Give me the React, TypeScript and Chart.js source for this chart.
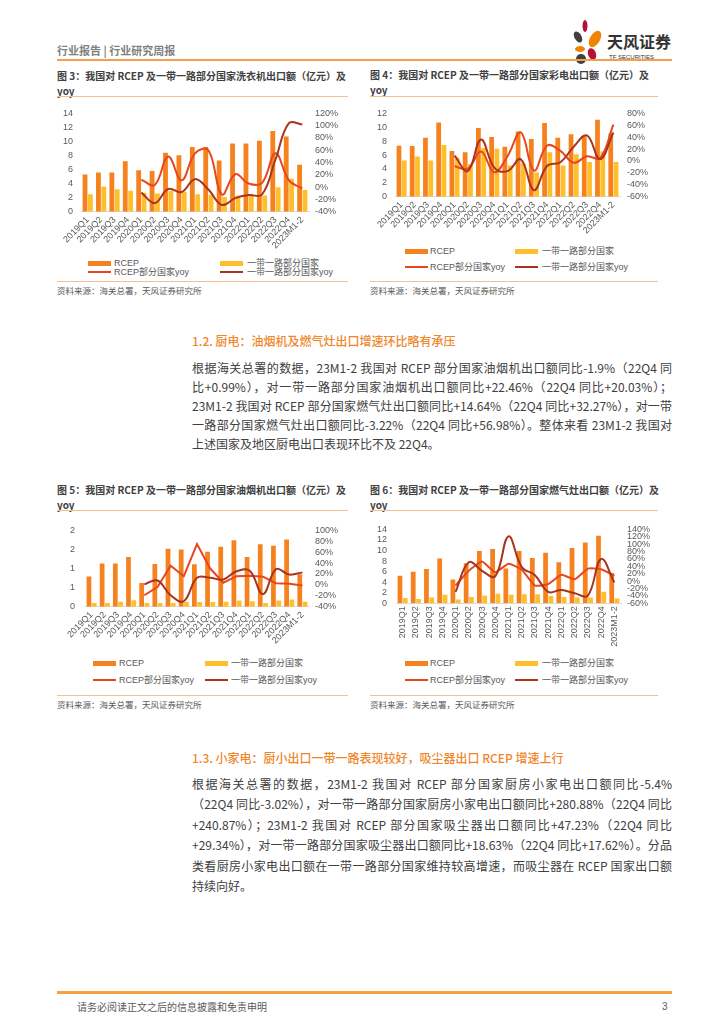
import React, { useEffect, useRef } from "react";
import { Chart, registerables } from "chart.js";
Chart.register(...registerables);

// ---------- data ----------
const quarters = ["2019Q1","2019Q2","2019Q3","2019Q4","2020Q1","2020Q2","2020Q3","2020Q4","2021Q1","2021Q2","2021Q3","2021Q4","2022Q1","2022Q2","2022Q3","2022Q4","2023M1-2"];
const legendNames = ["RCEP", "一带一路部分国家", "RCEP部分国家yoy", "一带一路部分国家yoy"];

// Fig 3 washing machines (亿元, yoy %)
const washerRcep = [5.3, 5.6, 5.6, 7.2, 5.9, 5.8, 8.4, 8.05, 9.2, 9.2, 7.3, 9.7, 9.7, 10.1, 11.5, 10.7, 6.7];
const washerBr = [2.5, 3.6, 3.2, 3.0, 2.7, 2.6, 3.0, 2.85, 2.5, 2.4, 2.1, 2.3, 2.4, 2.3, 3.5, 4.7, 3.1];
const washerRcepYoy = [null, null, null, null, 12, 3.5, 50, 11, 55, 60, -12, 21, 6, 7, 55, 11, -2];
const washerBrYoy = [null, null, null, null, -9, -26, -3, -8, 13, -4, -29, -18, -13, -12, 45, 104, 102];

// Fig 4 colour TVs
const tvRcep = [7.35, 7.3, 8.5, 10.7, 6.6, 6.4, 9.9, 8.6, 7.2, 9.4, 8.3, 10.6, 8.5, 9.0, 8.7, 11.1, 9.1];
const tvBr = [5.2, 5.8, 5.2, 7.45, 5.6, 4.7, 7.0, 6.9, 4.5, 4.8, 3.5, 6.4, 4.5, 6.1, 5.0, 6.5, 5.0];
const tvRcepYoy = [null, null, null, null, -9, -13, 16, -19, 8, 48, -16, 26, 17, -3, 8, 5, 61];
const tvBrYoy = [null, null, null, null, 9, -17, 36, -11, -17, 3, -49, -8, -2, 24, 43, 3, 48];

// Fig 5 range hoods
const hoodRcep = [0.79, 1.13, 1.13, 1.3, 0.62, 1.12, 1.52, 1.5, 1.11, 1.44, 1.57, 1.74, 1.3, 1.64, 1.6, 1.76, 0.85];
const hoodBr = [0.1, 0.1, 0.13, 0.17, 0.1, 0.1, 0.1, 0.12, 0.12, 0.12, 0.13, 0.16, 0.14, 0.1, 0.16, 0.19, 0.13];
const hoodRcepYoy = [null, null, null, null, -19, -4, 35, 16, 75, 30, 4, 16, 17, 15, 3, 2, -1];
const hoodBrYoy = [null, null, null, null, 1, 8, -19, -30, 13, 13, 10, 25, 26, -17, 29, 19, 23];

// Fig 6 gas stoves
const stoveRcep = [5.2, 6.0, 6.5, 8.5, 4.5, 7.6, 9.9, 10.3, 6.6, 9.9, 8.6, 9.6, 7.8, 10.5, 11.5, 12.8, 5.7];
const stoveBr = [1.0, 0.8, 1.1, 1.6, 0.7, 1.2, 1.5, 1.8, 1.6, 1.7, 1.7, 1.4, 1.2, 1.1, 1.1, 2.2, 0.9];
const stoveRcepYoy = [null, null, null, null, -12, 28, 53, 24, 47, 31, -12, -8, 17, 5, 34, 32, 15];
const stoveBrYoy = [null, null, null, null, -29, 51, 28, 13, 121, 38, 16, -29, -24, -33, -39, 60, -4];

// ---------- styles ----------
const ORANGE = "#F5821F";
const YELLOW = "#FFBF2B";
const RED = "#E8471D";
const DARK = "#A8341F";
const LINE_ORANGE = "#F6C08E";
const CJK = "'Noto Sans CJK SC', 'Noto Sans', sans-serif";
const TICKF = "'Liberation Sans', 'Noto Sans CJK SC', sans-serif";
const TICK_COLOR = "#595959";

type Cfg = {
  left: number; top: number; width: number; height: number;
  rcep: number[]; br: number[]; rcepYoy: (number | null)[]; brYoy: (number | null)[];
  yMax: number; yStep: number; y2Min: number; y2Max: number; y2Step: number;
  rot: number; padTop: number; xH: number; lw: number; rw: number; lpad: number; rpad: number;
  tRed: number; tDark: number; intLabels?: boolean;
};

function ComboChart(p: Cfg) {
  const ref = useRef<HTMLCanvasElement>(null);
  useEffect(() => {
    const tickFont = { family: TICKF, size: 9 };
    const chart = new Chart(ref.current as HTMLCanvasElement, {
      type: "bar",
      data: {
        labels: quarters,
        datasets: [
          { type: "line", label: legendNames[2], data: p.rcepYoy, yAxisID: "y2", borderColor: RED, backgroundColor: RED, borderWidth: 2, pointRadius: 0, tension: p.tRed, order: 1, fill: false } as any,
          { type: "line", label: legendNames[3], data: p.brYoy, yAxisID: "y2", borderColor: DARK, backgroundColor: DARK, borderWidth: 2, pointRadius: 0, tension: p.tDark, order: 0, fill: false } as any,
          { type: "bar", label: legendNames[0], data: p.rcep, yAxisID: "y", backgroundColor: ORANGE, order: 2, categoryPercentage: 0.8, barPercentage: 0.9 },
          { type: "bar", label: legendNames[1], data: p.br, yAxisID: "y", backgroundColor: YELLOW, order: 2, categoryPercentage: 0.8, barPercentage: 0.9 },
        ],
      },
      options: {
        animation: false,
        responsive: false,
        maintainAspectRatio: false,
        devicePixelRatio: 1,
        layout: { padding: { top: p.padTop, left: 0, right: 0, bottom: 0 } },
        plugins: { legend: { display: false }, tooltip: { enabled: false } },
        scales: {
          x: {
            grid: { display: false, drawTicks: false },
            border: { display: true, color: "#d9d9d9" },
            ticks: { font: tickFont, color: TICK_COLOR, minRotation: p.rot, maxRotation: p.rot, autoSkip: false, padding: 3 },
            afterFit: (s: any) => { s.height = p.xH; },
          },
          y: {
            position: "left", min: 0, max: p.yMax,
            grid: { display: false, drawTicks: false },
            border: { display: false },
            ticks: {
              stepSize: p.yStep, autoSkip: false, font: tickFont, color: TICK_COLOR, padding: p.lpad,
              callback: (v: any) => (p.intLabels ? String(Math.round(Number(v))) : String(v)),
            },
            afterFit: (s: any) => { s.width = p.lw; },
          },
          y2: {
            position: "right", min: p.y2Min, max: p.y2Max,
            grid: { display: false, drawTicks: false },
            border: { display: false },
            ticks: { stepSize: p.y2Step, autoSkip: false, font: tickFont, color: TICK_COLOR, padding: p.rpad, callback: (v: any) => `${v}%` },
            afterFit: (s: any) => { s.width = p.rw; },
          },
        },
      } as any,
    });
    return () => chart.destroy();
  }, []);
  return (
    <canvas
      ref={ref}
      width={p.width}
      height={p.height}
      style={{ position: "absolute", left: p.left, top: p.top, width: p.width, height: p.height }}
    />
  );
}

function Txt(props: { x: number; y: number; size: number; color?: string; weight?: number; family?: string; children: React.ReactNode; }) {
  const lh = Math.round(props.size * 1.4);
  return (
    <div style={{ position: "absolute", left: props.x, top: props.y - lh / 2, fontSize: props.size, lineHeight: `${lh}px`, color: props.color || "#404040", fontWeight: props.weight || 400, fontFamily: props.family || CJK, whiteSpace: "nowrap" }}>
      {props.children}
    </div>
  );
}

function HLine(props: { x1: number; x2: number; y: number; h?: number; color?: string }) {
  return <div style={{ position: "absolute", left: props.x1, top: props.y, width: props.x2 - props.x1, height: props.h || 1, background: props.color || LINE_ORANGE }} />;
}

function Legend(props: { sx1: number; sx2: number; tx1: number; tx2: number; y1: number; y2: number }) {
  const { sx1, sx2, tx1, tx2, y1, y2 } = props;
  const sw = 23;
  const lab = (x: number, y: number, t: string) => (
    <Txt x={x} y={y} size={9} color={TICK_COLOR} family={TICKF}>{t}</Txt>
  );
  return (
    <>
      <div style={{ position: "absolute", left: sx1, top: y1 - 2.5, width: sw, height: 5, background: ORANGE }} />
      {lab(tx1, y1, legendNames[0])}
      <div style={{ position: "absolute", left: sx2, top: y1 - 2.5, width: sw, height: 5, background: YELLOW }} />
      {lab(tx2, y1, legendNames[1])}
      <div style={{ position: "absolute", left: sx1, top: y2 - 1, width: sw, height: 2, background: RED }} />
      {lab(tx1, y2, legendNames[2])}
      <div style={{ position: "absolute", left: sx2, top: y2 - 1, width: sw, height: 2, background: DARK }} />
      {lab(tx2, y2, legendNames[3])}
    </>
  );
}

function Figure(props: { x: number; x2: number; titleY: number; num: number; name: string; lineY: number; bottomY: number }) {
  return (
    <>
      <Txt x={props.x} y={props.titleY} size={10} weight={700} color="#404040">
        {`图 ${props.num}：我国对 RCEP 及一带一路部分国家${props.name}出口额（亿元）及`}
      </Txt>
      <Txt x={props.x} y={props.titleY + 15} size={10} weight={700} color="#404040">yoy</Txt>
      <HLine x1={props.x} x2={props.x2} y={props.lineY} />
      <HLine x1={props.x} x2={props.x2} y={props.bottomY} />
      <Txt x={props.x} y={props.bottomY + 9} size={8.5} color="#595959">资料来源：海关总署，天风证券研究所</Txt>
    </>
  );
}

function BodyLines(props: { x: number; y: number; width: number; lh: number; lines: string[]; lastLeft: number[] }) {
  return (
    <>
      {props.lines.map((t, i) => (
        <div key={i} style={{
          position: "absolute", left: props.x, top: props.y + i * props.lh - 10, width: props.width,
          fontSize: 12, lineHeight: "20px", fontFamily: CJK, color: "#404040", whiteSpace: "nowrap",
          textAlign: props.lastLeft.includes(i) ? "left" : "justify",
          textAlignLast: props.lastLeft.includes(i) ? "left" : "justify",
        } as any}>{t}</div>
      ))}
    </>
  );
}

const sec12Lines = [
  "根据海关总署的数据，23M1-2 我国对 RCEP 部分国家油烟机出口额同比-1.9%（22Q4 同",
  "比+0.99%），对一带一路部分国家油烟机出口额同比+22.46%（22Q4 同比+20.03%）；",
  "23M1-2 我国对 RCEP 部分国家燃气灶出口额同比+14.64%（22Q4 同比+32.27%），对一带",
  "一路部分国家燃气灶出口额同比-3.22%（22Q4 同比+56.98%）。整体来看 23M1-2 我国对",
  "上述国家及地区厨电出口表现环比不及 22Q4。",
];
const sec13Lines = [
  "根据海关总署的数据，23M1-2 我国对 RCEP 部分国家厨房小家电出口额同比-5.4%",
  "（22Q4 同比-3.02%），对一带一路部分国家厨房小家电出口额同比+280.88%（22Q4 同比",
  "+240.87%）；23M1-2 我国对 RCEP 部分国家吸尘器出口额同比+47.23%（22Q4 同比",
  "+29.34%），对一带一路部分国家吸尘器出口额同比+18.63%（22Q4 同比+17.62%）。分品",
  "类看厨房小家电出口额在一带一路部分国家维持较高增速，而吸尘器在 RCEP 国家出口额",
  "持续向好。",
];

function Logo() {
  return (
    <svg style={{ position: "absolute", left: 570, top: 18, width: 110, height: 46 }} width={110} height={46}>
      <ellipse cx={15} cy={8} rx={2.5} ry={6} fill="#B5123A" />
      <ellipse cx={8} cy={19} rx={3.5} ry={6} fill="#404040" transform="rotate(-30 8 19)" />
      <ellipse cx={25} cy={21} rx={5} ry={9} fill="#F08300" transform="rotate(30 25 21)" />
      <ellipse cx={10} cy={31} rx={5} ry={3} fill="#F08300" />
      <ellipse cx={22} cy={36} rx={4} ry={6} fill="#B5123A" transform="rotate(-20 22 36)" />
      <ellipse cx={11} cy={41} rx={5} ry={5} fill="#404040" />
      <text x={37} y={30} fontSize={16} fontWeight={700} fill="#333" fontFamily={CJK}>天风证券</text>
      <text x={39} y={41} fontSize={6} fill="#333" fontFamily={TICKF}>TF SECURITIES</text>
    </svg>
  );
}

export default function App() {
  return (
    <div style={{ position: "absolute", left: 0, top: 0, width: 724, height: 1024, background: "#fff", overflow: "hidden" }}>
      {/* header */}
      <Txt x={57} y={50} size={11} weight={700} color="#7f7f7f">行业报告 | 行业研究周报</Txt>
      <Logo />
      <HLine x1={57} x2={672} y={59} h={1.5} color="#F4A04A" />

      {/* Fig 3 */}
      <Figure x={57} x2={348} titleY={76} num={3} name="洗衣机" lineY={96} bottomY={281} />
      <ComboChart left={57} top={100} width={293} height={150} rcep={washerRcep} br={washerBr} rcepYoy={washerRcepYoy} brYoy={washerBrYoy}
        yMax={14} yStep={2} y2Min={-40} y2Max={120} y2Step={20} rot={45} padTop={8.3} xH={38.3} lw={24} rw={41} lpad={8} rpad={6} tRed={0.4} tDark={0.4} />
      <Legend sx1={88} sx2={220} tx1={114} tx2={247} y1={263} y2={272} />

      {/* Fig 4 */}
      <Figure x={370} x2={658} titleY={75} num={4} name="彩电" lineY={96} bottomY={281} />
      <ComboChart left={370} top={100} width={290} height={140} rcep={tvRcep} br={tvBr} rcepYoy={tvRcepYoy} brYoy={tvBrYoy}
        yMax={12} yStep={2} y2Min={-60} y2Max={80} y2Step={20} rot={45} padTop={10.7} xH={43.3} lw={25} rw={40} lpad={8} rpad={7} tRed={0.4} tDark={0.4} />
      <Legend sx1={405} sx2={515} tx1={430} tx2={542} y1={251} y2={267} />

      {/* Section 1.2 */}
      <Txt x={192} y={340} size={12} weight={500} color="#F0862A">1.2. 厨电：油烟机及燃气灶出口增速环比略有承压</Txt>
      <BodyLines x={192} y={368} width={480} lh={19} lines={sec12Lines} lastLeft={[4]} />

      {/* Fig 5 */}
      <Figure x={57} x2={348} titleY={490} num={5} name="油烟机" lineY={510} bottomY={695} />
      <ComboChart left={57} top={515} width={293} height={135} rcep={hoodRcep} br={hoodBr} rcepYoy={hoodRcepYoy} brYoy={hoodBrYoy}
        yMax={2} yStep={0.5} y2Min={-40} y2Max={100} y2Step={20} rot={45} padTop={9.3} xH={43.3} lw={28} rw={41} lpad={10} rpad={6} tRed={0} tDark={0.4} intLabels />
      <Legend sx1={93} sx2={205} tx1={119} tx2={231} y1={663} y2={680} />

      {/* Fig 6 */}
      <Figure x={370} x2={658} titleY={490} num={6} name="燃气灶" lineY={510} bottomY={695} />
      <ComboChart left={370} top={515} width={290} height={135} rcep={stoveRcep} br={stoveBr} rcepYoy={stoveRcepYoy} brYoy={stoveBrYoy}
        yMax={14} yStep={2} y2Min={-60} y2Max={140} y2Step={20} rot={90} padTop={9} xH={46.7} lw={26} rw={39} lpad={9} rpad={6} tRed={0.15} tDark={0.4} />
      <Legend sx1={405} sx2={515} tx1={430} tx2={542} y1={663} y2={680} />

      {/* Section 1.3 */}
      <Txt x={192} y={757} size={12} weight={500} color="#F0862A">1.3. 小家电：厨小出口一带一路表现较好，吸尘器出口 RCEP 增速上行</Txt>
      <BodyLines x={192} y={784} width={480} lh={20.4} lines={sec13Lines} lastLeft={[5]} />

      {/* footer */}
      <HLine x1={57} x2={672} y={991} h={3} color="#F4A23C" />
      <Txt x={77} y={1007} size={10} color="#595959">请务必阅读正文之后的信息披露和免责申明</Txt>
      <Txt x={662} y={1007} size={10} color="#595959" family={TICKF}>3</Txt>
    </div>
  );
}
